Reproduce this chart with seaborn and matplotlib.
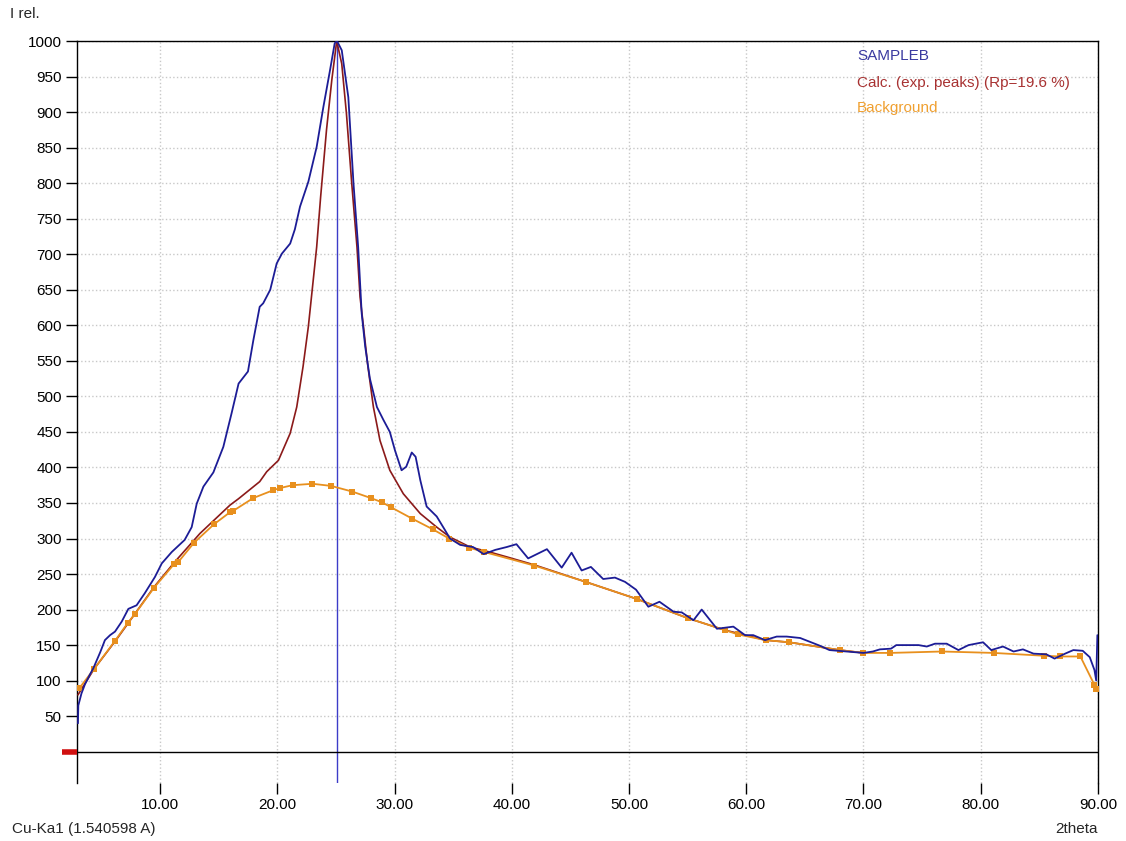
import matplotlib
matplotlib.use("Agg")
import matplotlib.pyplot as plt
import seaborn as sns

# --- measured pattern (2theta, relative intensity) ---
sample_x = [3.0, 3.03, 3.3, 3.6, 4.0, 4.3, 4.9, 5.3, 5.74, 6.16, 6.73, 7.3, 8.0, 8.7, 9.57,
            10.15, 11.0, 12.1, 12.7, 13.13, 13.7, 14.55, 15.4, 16.1, 16.7, 17.5, 17.96, 18.5,
            18.8, 19.4, 19.95, 20.4, 21.1, 21.5, 21.94, 22.65, 23.36, 23.93, 24.5, 24.9, 25.1,
            25.5, 26.06, 26.5, 26.9, 27.2, 27.5, 27.9, 28.5, 29.05, 29.6, 30.04, 30.6, 31.0,
            31.47, 31.8, 32.2, 32.74, 33.6, 34.3, 34.73, 35.6, 36.7, 37.6, 38.6, 39.57, 40.4,
            41.4, 43.0, 44.26, 45.1, 45.96, 46.75, 47.8, 48.8, 49.66, 50.6, 51.65, 52.6, 53.8,
            54.5, 55.5, 56.2, 57.5, 58.9, 59.9, 60.6, 61.6, 62.6, 63.45, 64.6, 66.3, 67.1,
            68.56, 70.0, 70.8, 71.4, 72.35, 72.8, 74.7, 75.4, 76.1, 77.1, 78.1, 78.96, 80.2,
            80.9, 81.9, 82.8, 83.6, 84.5, 85.6, 86.3, 87.2, 87.9, 88.7, 89.3, 89.7, 89.85, 89.95]
sample_y = [40, 65, 82, 95, 108, 117, 140, 157, 164, 169, 183, 201, 206, 223, 246,
            265, 281, 298, 316, 349, 373, 393, 429, 476, 518, 535, 579, 626,
            631, 650, 687, 701, 715, 735, 767, 802, 851, 907, 959, 997, 1000,
            987, 921, 800, 710, 617, 570, 525, 485, 467, 450, 424, 396, 401,
            421, 415, 382, 345, 331, 312, 300, 291, 288, 278, 284, 288, 292,
            272, 285, 259, 280, 255, 260, 243, 245, 239, 228, 204, 211, 197,
            196, 185, 200, 173, 176, 164, 164, 157, 162, 162, 160, 149, 143,
            141, 139, 141, 144, 145, 150, 150, 148, 152, 152, 143, 150, 154,
            143, 148, 141, 144, 138, 137, 131, 138, 143, 142, 133, 115, 100, 164]

# --- calculated pattern ---
calc_x = [3.0, 4.4, 6.2, 7.9, 9.5, 11.2, 13.4, 15.97, 16.7, 18.5, 19.1, 20.1, 21.1, 21.66,
          22.2, 22.65, 23.07, 23.36, 23.7, 24.2, 24.65, 25.07, 25.5, 25.9, 26.35, 26.8, 27.06,
          27.34, 27.7, 28.2, 28.76, 29.6, 30.75, 32.2, 33.6, 34.73, 36.44, 38.1, 39.6, 41.9,
          46.3, 50.65, 55.0, 58.2, 61.65, 63.65, 68.0, 70.0]
calc_y = [80, 117, 156, 195, 232, 266, 307, 347, 356, 380, 394, 410, 448, 485,
          542, 598, 664, 710, 781, 875, 945, 1000, 968, 898, 800, 710, 640,
          600, 546, 485, 438, 396, 363, 335, 316, 302, 288, 281, 274, 263,
          239, 215, 188, 171, 157, 154, 143, 139]

# --- background points ---
bg_x = [3.1, 4.4, 6.16, 7.24, 7.87, 9.5, 11.2, 11.56, 12.9, 14.6, 15.97, 16.25, 17.96, 19.66,
        20.23, 21.3, 23.0, 24.6, 26.4, 27.97, 28.93, 29.7, 31.5, 33.26, 34.65, 36.38, 37.66,
        41.9, 46.3, 50.65, 55.0, 58.2, 59.3, 61.65, 63.65, 68.0, 70.0, 72.3, 76.7, 81.1,
        85.4, 86.8, 88.5, 89.7, 89.83]
bg_y = [89, 117, 156, 181, 194, 231, 264, 267, 294, 320, 337, 339, 357, 368,
        371, 375, 377, 374, 366, 357, 351, 344, 328, 313, 300, 287, 281,
        262, 239, 215, 188, 171, 165, 157, 154, 143, 139, 139, 141, 139,
        135, 134, 134, 94, 88]

PEAK_POS = 25.07
X_TICKS = [10, 20, 30, 40, 50, 60, 70, 80, 90]
Y_TICKS = list(range(50, 1001, 50))

sns.set_style("white")
plt.rcParams['font.family'] = ['Liberation Sans', 'DejaVu Sans']
FS = 11

fig = plt.figure(figsize=(11.26, 8.41), dpi=100)
ax = fig.add_axes([0.0684, 0.069, 0.9067, 0.8822])

sns.lineplot(x=calc_x, y=calc_y, sort=False, estimator=None, color='#8b1a1a',
             linewidth=1.2, ax=ax, zorder=3)
sns.lineplot(x=bg_x, y=bg_y, sort=False, estimator=None, color='#e8901e',
             linewidth=1.3, marker='s', markersize=5, markeredgewidth=0, ax=ax, zorder=4)
sns.lineplot(x=sample_x, y=sample_y, sort=False, estimator=None, color='#1c1c96',
             linewidth=1.3, ax=ax, zorder=5)

ax.axvline(PEAK_POS, ymin=0, ymax=1, color='#3c3cc8', linewidth=1, zorder=2)
ax.axhline(0, color='black', linewidth=1, zorder=2)
ax.plot([1.6, 2.92], [0, 0], color='#d01010', linewidth=4, solid_capstyle='butt',
        clip_on=False, zorder=6)

ax.set_xlim(2.92, 90)
ax.set_ylim(-44, 1000)
ax.set_xticks(X_TICKS)
ax.set_xticklabels([f"{t:.2f}" for t in X_TICKS])
ax.set_yticks(Y_TICKS)
ax.set_yticklabels([str(t) for t in Y_TICKS])
ax.tick_params(axis='both', direction='out', length=8, width=1, colors='black',
               labelsize=FS, pad=3, bottom=True, left=True)
ax.grid(True, color='#c8c8c8', linestyle=':', linewidth=1)
ax.set_axisbelow(True)

for side in ['top', 'left', 'right']:
    ax.spines[side].set_color('black')
    ax.spines[side].set_linewidth(1)
ax.spines['bottom'].set_visible(False)

ax.set_xlabel('')
ax.set_ylabel('')

fig.text(10 / 1126, 1 - 14 / 841, 'I rel.', ha='left', va='center', fontsize=FS)
fig.text(12 / 1126, 1 - 829 / 841, 'Cu-Ka1 (1.540598 A)', ha='left', va='center', fontsize=FS)
fig.text(1098 / 1126, 1 - 829 / 841, '2theta', ha='right', va='center', fontsize=FS)

fig.text(857 / 1126, 1 - 56 / 841, 'SAMPLEB', color='#3a3aa0', ha='left', va='center', fontsize=FS)
fig.text(857 / 1126, 1 - 83 / 841, 'Calc. (exp. peaks) (Rp=19.6 %)', color='#a83232',
         ha='left', va='center', fontsize=FS)
fig.text(857 / 1126, 1 - 108 / 841, 'Background', color='#f0a030', ha='left', va='center',
         fontsize=FS)

fig.savefig('out.png', dpi=100)
